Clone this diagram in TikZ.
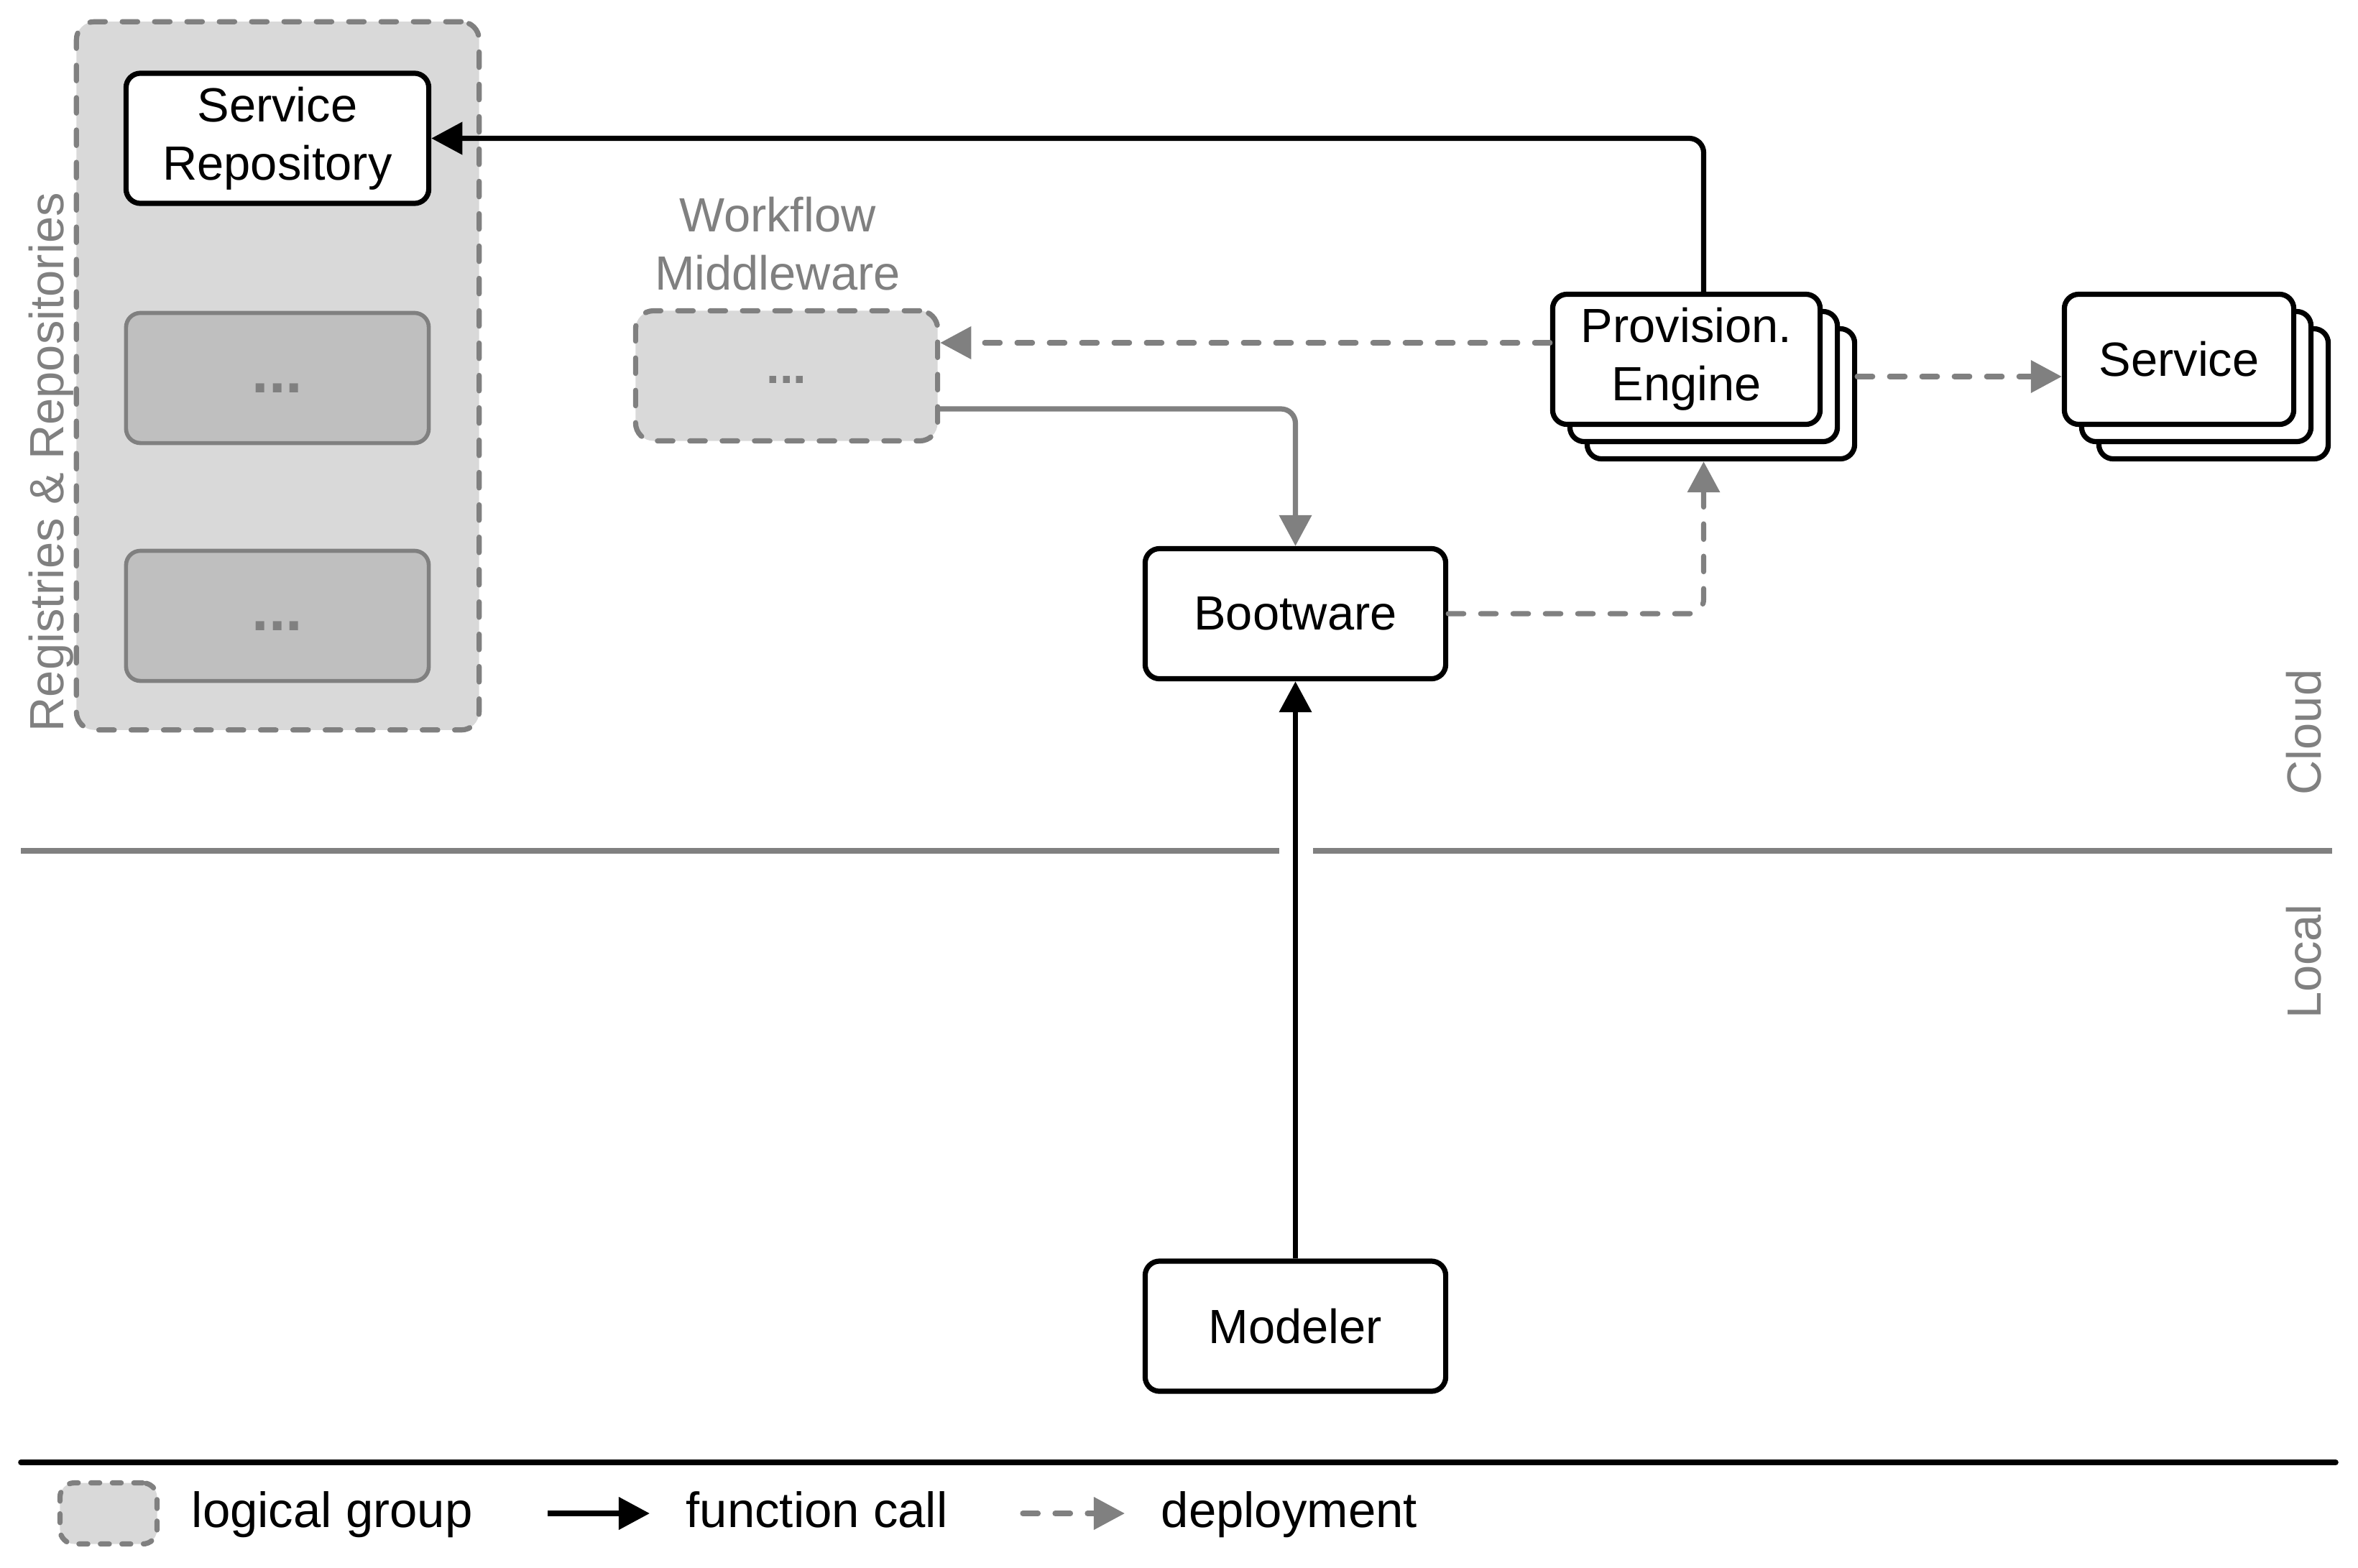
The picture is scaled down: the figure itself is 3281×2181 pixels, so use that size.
\documentclass[tikz,border=0pt]{standalone}
\usepackage{fontspec}
\setmainfont{Liberation Sans}
\usetikzlibrary{arrows.meta,calc}
\definecolor{lgray}{HTML}{808080}
\definecolor{grpfill}{HTML}{D9D9D9}
\definecolor{boxfill}{HTML}{BFBFBF}
\tikzset{
 lw/.style={line width=2.05pt},
 box/.style={draw=black, lw, rounded corners=0.2cm, fill=white, align=center, inner sep=0pt, minimum height=1.81cm},
 grpbox/.style={draw=lgray, fill=grpfill, lw, line cap=round, dash pattern=on 6.1pt off 6.7pt, rounded corners=0.25cm, inner sep=0pt},
 innerbox/.style={draw=lgray, fill=boxfill, line width=1.6pt, rounded corners=0.2cm, minimum width=4.21cm, minimum height=1.81cm, text=lgray, inner sep=0pt, font=\fontsize{24}{28}\selectfont\bfseries},
 tip/.style={-{Triangle[length=0.43cm,width=0.44cm]}},
 fcall/.style={draw=black, lw, tip, rounded corners=0.2cm},
 gcall/.style={draw=lgray, lw, tip, rounded corners=0.2cm},
 deploy/.style={draw=lgray, lw, line cap=round, dash pattern=on 6.1pt off 6.7pt, tip, rounded corners=0.2cm},
 graytext/.style={text=lgray, inner sep=0pt},
 legtext/.style={anchor=base west, inner sep=0pt, font=\fontsize{19.6}{23}\selectfont},
}
\begin{document}
\begin{tikzpicture}[x=0.01cm, y=-0.01cm, font=\fontsize{19}{23}\selectfont]
\useasboundingbox (0,0) rectangle (3281,2181);

% registries group
\node[grpbox, minimum width=5.60cm, minimum height=9.85cm] (grp) at (386.5,523) {};
\node[box, minimum width=4.21cm] (sr) at (386,192.5) {Service\\Repository};
\node[innerbox] (d1) at (386,526) {\vphantom{Xg}...};
\node[innerbox] (d2) at (386,857) {\vphantom{Xg}...};
\node[graytext, rotate=90, anchor=base west] (reglbl) at (88,1019) {Registries \& Repositories};

% workflow middleware
\node[grpbox, minimum width=4.20cm, minimum height=1.81cm, text=lgray, font=\fontsize{19}{23}\selectfont\bfseries] (wm) at (1094.5,523) {\vphantom{,g}...};
\node[graytext, align=center] (wmlbl) at (1082,339) {Workflow\\Middleware};

% bootware, modeler
\node[box, minimum width=4.18cm] (boot) at (1802.5,854) {Bootware};
\node[box, minimum width=4.18cm] (mod) at (1802.5,1845.5) {Modeler};

% provisioning engine stack
\node[box, minimum width=3.72cm] (pe3) at (2394.5,548) {};
\node[box, minimum width=3.72cm] (pe2) at (2370.5,524) {};
\node[box, minimum width=3.72cm] (pe) at (2346.5,500) {Provision.\\Engine};

% service stack
\node[box, minimum width=3.19cm] (sv3) at (3080,548) {};
\node[box, minimum width=3.19cm] (sv2) at (3056,524) {};
\node[box, minimum width=3.19cm] (sv) at (3032,500) {Service};

% cloud / local
\node[graytext, rotate=90] (cloud) at (3206,1019) {Cloud};
\node[graytext, rotate=90] (local) at (3206,1338) {Local};
\coordinate (dl1) at (29,1184);
\coordinate (dl2) at (1780,1184);
\coordinate (dr1) at (1827,1184);
\coordinate (dr2) at (3245,1184);
\draw[lgray, line width=2.3pt] (dl1) -- (dl2) (dr1) -- (dr2);

% connectors
\draw[fcall] (pe2.north |- pe.north) |- (sr.east);
\coordinate (pw) at ($(pe.west)+(0,-23)$);
\draw[deploy] (pw) -- (pw -| wm.east);
\draw[gcall] ($(wm.east)+(0,46)$) -| (boot.north);
\draw[deploy] (boot.east) -| (pe2.south |- pe3.south);
\draw[deploy] (pe2.east -| pe3.east) -- (sv.west |- pe2.east);
\draw[fcall] (mod.north) -- (boot.south);

% legend
\coordinate (ll1) at (29,2035);
\coordinate (ll2) at (3250,2035);
\draw[black, line width=2.15pt, line cap=round] (ll1) -- (ll2);
\node[grpbox, minimum width=1.35cm, minimum height=0.85cm, rounded corners=0.2cm, dash pattern=on 3.5pt off 5pt] (lg) at (151,2106) {};
\node[legtext] (lgt) at (266,2125) {logical group};
\coordinate (fc1) at (762,2106);
\coordinate (fc2) at (904,2106);
\draw[fcall] (fc1) -- (fc2);
\node[legtext] (fct) at (954,2125) {function call};
\coordinate (dp1) at (1423,2106);
\coordinate (dp2) at (1565,2106);
\draw[deploy] (dp1) -- (dp2);
\node[legtext] (dpt) at (1615,2125) {deployment};
\end{tikzpicture}
\end{document}
